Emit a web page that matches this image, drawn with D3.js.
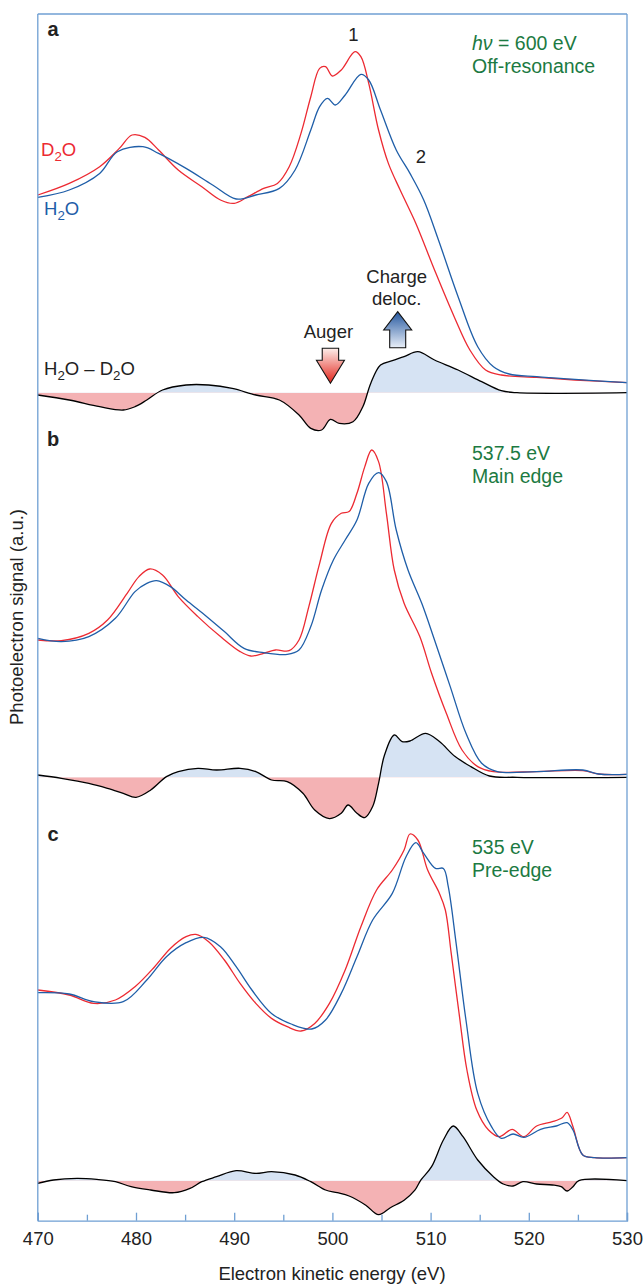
<!DOCTYPE html>
<html><head><meta charset="utf-8">
<script src="https://cdn.jsdelivr.net/npm/d3@7"></script>
<style>
body{margin:0;background:#fff}
svg text{font-family:"Liberation Sans",Arial,Helvetica,sans-serif}
</style>
</head><body>
<svg id="chart" width="644" height="1284"></svg>
<script>
// ---------- DATA (energy in eV, signal in a.u. relative to each panel's difference baseline) ----------
const majorTicks = [470, 480, 490, 500, 510, 520, 530];
const minorTicks = [475, 485, 495, 505, 515, 525];

// Panel a : hv = 600 eV (off-resonance)
const a_D2O = [[470,197.7],[473.2,209.3],[476.3,226],[478.3,244.3],[479.6,257.7],[480.9,255.3],[482.3,242.7],[484.3,222.7],[486.7,206],[488.6,192.7],[490.0,189.3],[491.4,196],[493.0,204.3],[494.4,209.3],[495.6,226],[496.8,259.3],[497.8,296],[498.7,324.3],[499.3,326],[500.0,316.7],[500.9,322.7],[502.3,341],[502.9,336],[503.7,309.3],[504.7,262.7],[505.7,229.3],[506.9,202.7],[508.5,169.3],[510.4,122.7],[512.4,76],[514.0,42.7],[515.6,22.7],[517.2,17.7],[520.8,15.3],[524.7,12.7],[530,10]];
const a_H2O = [[470,195.3],[473.2,202.7],[476.3,219.3],[478.1,241],[480.7,246],[482.3,239.3],[485.1,224.3],[487.8,207.7],[490.2,193.7],[492.2,197.7],[494.6,204.3],[496.2,222.7],[497.8,262.7],[498.7,286],[499.5,294.3],[500.3,287.7],[501.3,297.7],[502.9,318.3],[503.7,312.7],[504.9,282.7],[506.5,242.7],[507.9,219.3],[509.3,192.7],[510.8,152.7],[512.8,96],[514.8,46],[516.4,26],[518.0,18.7],[520.8,16],[524.7,13.3],[530,10]];
const a_diff = [[470,-2.3],[473.2,-7.3],[476.3,-14],[478.7,-17.3],[479.9,-14],[481.1,-7.3],[482.7,2.7],[485.1,7.7],[487.4,7.7],[489.8,4.3],[492.2,-2.3],[494.6,-7.3],[496.6,-22.3],[497.8,-35.7],[498.9,-37.3],[499.8,-26.7],[500.7,-30.7],[502.1,-29],[503.1,-14],[503.9,9.3],[504.9,27.7],[506.1,32],[507.3,36],[508.7,41],[510.4,32.7],[512.8,22.7],[515.2,11],[517.2,2],[518.8,0],[530,0]];

// Panel b : 537.5 eV (main edge)
const b_D2O = [[470,137.3],[472.4,136.7],[475.2,144],[477.1,157.3],[479.1,184],[480.3,200.7],[481.4,208.3],[482.7,202.3],[484.3,180.7],[486.3,160.7],[488.6,140.7],[490.6,125.7],[491.7,121.3],[493.0,124],[494.2,127.3],[495.6,126.7],[496.6,137.3],[497.6,170.7],[498.7,214],[499.9,254],[500.9,264],[501.7,265.7],[502.5,284],[503.3,310.7],[504.0,327.3],[504.7,315.7],[505.5,264],[506.3,207.3],[507.3,174],[508.9,140.7],[510.1,104],[511.6,64],[513.2,27.3],[514.8,10.7],[516.4,5.7],[520.8,5.7],[525.5,6.7],[527.1,3.3],[530,3]];
const b_H2O = [[470,139],[472.4,135.7],[475.2,140.7],[477.9,159],[479.9,185.7],[481.1,194],[482.1,196.7],[483.5,190.7],[485.1,177.3],[487.0,162.3],[489.0,145.7],[491.0,129],[493.0,124.7],[495.4,123],[496.6,127.3],[497.8,150.7],[498.9,187.3],[500.1,217.3],[501.3,237.3],[502.5,257.3],[503.7,294],[504.7,304.7],[505.5,295.7],[506.5,247.3],[507.7,207.3],[509.1,174],[510.4,137.3],[512.0,90.7],[513.6,44],[515.2,14],[516.8,5.7],[520.8,5.7],[525.5,7.3],[527.1,3.3],[530,3]];
const b_diff = [[470,2.3],[472.4,-1],[475.2,-6],[477.1,-11],[478.7,-16],[480.0,-20],[481.5,-12.7],[483.1,0.7],[484.3,5.7],[486.3,9],[488.2,7.3],[490.6,9],[492.2,5.7],[493.8,-2.7],[495.4,-4.3],[497.0,-16],[498.2,-32.7],[499.7,-41.3],[500.9,-36],[501.6,-27.7],[502.5,-36],[503.3,-40.3],[504.1,-29.3],[504.7,-6],[505.3,22],[506.3,42.3],[507.1,35.7],[507.9,36.3],[509.5,44],[510.9,35.7],[512.5,20.7],[514.1,10.7],[516.0,1.3],[518.8,0],[530,0]];

// Panel c : 535 eV (pre-edge)
const c_D2O = [[470,190.7],[473.2,185.7],[475.7,177.3],[477.9,180.7],[479.9,194],[481.9,214],[483.5,232.3],[485.1,244],[486.1,246.3],[487.4,239],[489.0,220.7],[490.6,197.3],[492.2,177.3],[493.8,162.3],[495.4,154],[496.8,149.7],[498.2,157.3],[499.7,177.3],[501.3,210.7],[502.9,254],[504.5,290.7],[506.1,310.7],[507.3,330.7],[507.9,346.7],[508.7,340.7],[509.7,310.7],[510.9,287.3],[511.5,270.7],[512.1,227.3],[512.9,167.3],[513.7,110.7],[514.7,70.7],[515.9,50.7],[517.0,44],[518.3,51.3],[519.5,44],[520.8,54.7],[522.4,59],[523.4,63],[523.9,68.3],[524.5,54],[525.5,25.7],[526.7,23],[530,23]];
const c_H2O = [[470,188],[473.2,186.7],[475.7,179],[478.7,179],[481.1,200.7],[483.1,224],[485.1,238],[486.9,243.3],[488.6,234],[490.2,214],[491.8,190.7],[493.8,167.3],[495.8,156.7],[497.9,151.7],[499.3,160.7],[500.9,187.3],[502.5,224],[504.1,260.7],[506.1,287.3],[507.5,324],[508.5,338],[509.3,327.3],[510.5,312.3],[511.3,312.3],[511.8,294],[512.6,237.3],[513.6,160.7],[514.8,87.3],[516.2,54],[517.2,42.3],[518.4,46.7],[519.5,43.3],[521.2,51.3],[522.8,54.7],[523.9,58],[524.5,50.7],[525.5,25.7],[526.7,23],[530,23]];
const c_diff = [[470,-2.7],[471.6,0.7],[474.0,2.3],[476.0,1.3],[477.9,-1],[479.5,-6],[481.5,-9.3],[483.9,-12],[485.5,-7.7],[486.7,-1],[488.2,4],[490.2,10],[492.2,7.3],[493.8,9],[496.2,5.7],[497.8,-1],[499.3,-9.3],[500.5,-12],[501.7,-15.3],[503.4,-24.5],[504.7,-34],[505.9,-27],[507.3,-19.5],[508.4,-9.5],[509.0,0.5],[510.1,14],[511.3,40.7],[512.3,54.7],[513.3,44],[514.8,20.7],[516.4,4],[517.4,-3.3],[518.4,-5.3],[519.4,-1],[520.8,-3.3],[522.4,-4.3],[523.3,-6],[523.9,-10.3],[524.5,-6],[525.1,0],[530,0]];

const panelLetters = ["a", "b", "c"];
const panelNotes = [["hν = 600 eV", "Off-resonance"], ["537.5 eV", "Main edge"], ["535 eV", "Pre-edge"]];
const xTitle = "Electron kinetic energy (eV)";
const yTitle = "Photoelectron signal (a.u.)";

// ---------- LAYOUT ----------
const W = 644, H = 1284;
const fLeft = 37.8, fRight = 627, fTop = 14, fBottom = 1220.7;
const baselines = [392.7, 777.3, 1180.7];
const colRed = "#ec2a32", colBlue = "#1f5ea8", colFrame = "#6f9fd3", colGreen = "#1c7a42";
const posFill = "#d6e3f3", negFill = "#f4b2b4";
const FS = 18.5, FSG = 19.5;

const svg = d3.select("#chart");
const defs = svg.append("defs");

const x = d3.scaleLinear().domain([470, 530]).range([fLeft, fRight]);

const panels = [
  {D2O: a_D2O, H2O: a_H2O, diff: a_diff},
  {D2O: b_D2O, H2O: b_H2O, diff: b_diff},
  {D2O: c_D2O, H2O: c_H2O, diff: c_diff}
];

const gRed = defs.append("linearGradient").attr("id", "gRed").attr("x1", 0).attr("y1", 0).attr("x2", 0).attr("y2", 1);
gRed.append("stop").attr("offset", "0%").attr("stop-color", "#fdeeea");
gRed.append("stop").attr("offset", "100%").attr("stop-color", "#e3231a");
const gBlue = defs.append("linearGradient").attr("id", "gBlue").attr("x1", 0).attr("y1", 0).attr("x2", 0).attr("y2", 1);
gBlue.append("stop").attr("offset", "0%").attr("stop-color", "#24579f");
gBlue.append("stop").attr("offset", "100%").attr("stop-color", "#e9eff8");

panels.forEach((p, i) => {
  const base = baselines[i];
  const y = d3.scaleLinear().domain([0, 100]).range([base, base - 100]);
  const g = svg.append("g");

  defs.append("clipPath").attr("id", "above" + i).append("rect")
    .attr("x", fLeft).attr("y", 0).attr("width", fRight - fLeft).attr("height", y(0));
  defs.append("clipPath").attr("id", "below" + i).append("rect")
    .attr("x", fLeft).attr("y", y(0)).attr("width", fRight - fLeft).attr("height", H - y(0));

  const area = d3.area().x(d => x(d[0])).y0(y(0)).y1(d => y(d[1])).curve(d3.curveCatmullRom.alpha(0.5));
  g.append("path").datum(p.diff).attr("d", area).attr("fill", posFill).attr("clip-path", `url(#above${i})`);
  g.append("path").datum(p.diff).attr("d", area).attr("fill", negFill).attr("clip-path", `url(#below${i})`);

  const line = d3.line().x(d => x(d[0])).y(d => y(d[1])).curve(d3.curveCatmullRom.alpha(0.5));
  g.append("path").datum(p.diff).attr("d", line).attr("fill", "none").attr("stroke", "#000").attr("stroke-width", 1.3);
  g.append("path").datum(p.D2O).attr("d", line).attr("fill", "none").attr("stroke", colRed).attr("stroke-width", 1.3);
  g.append("path").datum(p.H2O).attr("d", line).attr("fill", "none").attr("stroke", colBlue).attr("stroke-width", 1.3);

  const lettersY = [29, 439, 834];
  svg.append("text").attr("x", 53).attr("y", lettersY[i]).attr("dy", "0.35em")
    .attr("text-anchor", "middle").attr("font-weight", "bold").attr("font-size", 20)
    .attr("font-family", '"DejaVu Sans",sans-serif')
    .attr("fill", "#222").text(panelLetters[i]);

  const notesY = [[43, 66], [453, 476], [847, 870]];
  panelNotes[i].forEach((t, k) => {
    const tx = svg.append("text").attr("x", 472).attr("y", notesY[i][k]).attr("dy", "0.35em")
      .attr("font-size", FSG).attr("fill", colGreen);
    if (i === 0 && k === 0) {
      tx.append("tspan").attr("font-style", "italic").text("hν");
      tx.append("tspan").text(" = 600 eV");
    } else tx.text(t);
  });
});

function subLabel(xp, yp, parts, color) {
  const t = svg.append("text").attr("x", xp).attr("y", yp).attr("dy", "0.35em")
    .attr("font-size", FS).attr("fill", color);
  parts.forEach(pt => {
    if (pt.sub) t.append("tspan").attr("font-size", FS * 0.72).attr("dy", 5).text(pt.s);
    else t.append("tspan").attr("dy", pt.after ? -5 : 0).text(pt.s);
  });
  return t;
}
subLabel(41, 156, [{s: "D"}, {s: "2", sub: true}, {s: "O", after: true}], colRed);
subLabel(44, 215, [{s: "H"}, {s: "2", sub: true}, {s: "O", after: true}], colBlue);
subLabel(44, 375, [{s: "H"}, {s: "2", sub: true}, {s: "O – D", after: true}, {s: "2", sub: true}, {s: "O", after: true}], "#222");

svg.append("text").attr("x", 353.5).attr("y", 35).attr("dy", "0.35em").attr("text-anchor", "middle")
  .attr("font-size", FS).attr("fill", "#222").text("1");
svg.append("text").attr("x", 421).attr("y", 157).attr("dy", "0.35em").attr("text-anchor", "middle")
  .attr("font-size", FS).attr("fill", "#222").text("2");

const augerX = x(499.8);
svg.append("text").attr("x", augerX - 2).attr("y", 332).attr("dy", "0.35em").attr("text-anchor", "middle")
  .attr("font-size", FS).attr("fill", "#222").text("Auger");
{
  const t0 = 348.3, sw = 8.2, sl = 12, hw = 14, hl = 23;
  const d = `M${augerX - sw},${t0} L${augerX + sw},${t0} L${augerX + sw},${t0 + sl} L${augerX + hw},${t0 + sl} L${augerX},${t0 + sl + hl} L${augerX - hw},${t0 + sl} L${augerX - sw},${t0 + sl} Z`;
  svg.append("path").attr("d", d).attr("fill", "url(#gRed)").attr("stroke", "#111").attr("stroke-width", 1.1);
}
const chX = x(506.65);
svg.append("text").attr("x", chX - 1).attr("y", 277).attr("dy", "0.35em").attr("text-anchor", "middle")
  .attr("font-size", FS).attr("fill", "#222").text("Charge");
svg.append("text").attr("x", chX - 1).attr("y", 299).attr("dy", "0.35em").attr("text-anchor", "middle")
  .attr("font-size", FS).attr("fill", "#222").text("deloc.");
{
  const tip = 311.7, hl = 18.3, hw = 14, sw = 8, sl = 17.7;
  const d = `M${chX},${tip} L${chX + hw},${tip + hl} L${chX + sw},${tip + hl} L${chX + sw},${tip + hl + sl} L${chX - sw},${tip + hl + sl} L${chX - sw},${tip + hl} L${chX - hw},${tip + hl} Z`;
  svg.append("path").attr("d", d).attr("fill", "url(#gBlue)").attr("stroke", "#111").attr("stroke-width", 1.1);
}

// ---------- frame & axis ----------
svg.append("line").attr("x1", fLeft).attr("x2", fRight).attr("y1", fTop).attr("y2", fTop).attr("stroke", colFrame).attr("stroke-width", 1.3);
svg.append("line").attr("x1", fLeft).attr("x2", fLeft).attr("y1", fTop).attr("y2", fBottom).attr("stroke", colFrame).attr("stroke-width", 1.3);
svg.append("line").attr("x1", fRight).attr("x2", fRight).attr("y1", fTop).attr("y2", fBottom).attr("stroke", colFrame).attr("stroke-width", 1.3);

const axisG = svg.append("g").attr("transform", `translate(0,${fBottom})`);
axisG.call(d3.axisBottom(x).tickValues(majorTicks).tickSize(-8).tickPadding(11).tickFormat(d3.format("d")));
axisG.select(".domain").attr("stroke", colFrame).attr("stroke-width", 1.3);
axisG.selectAll(".tick line").attr("stroke", colFrame).attr("stroke-width", 1.3);
axisG.selectAll(".tick text").attr("font-size", FS).attr("fill", "#222")
  .attr("font-family", '"Liberation Sans",Arial,sans-serif');
const minorG = svg.append("g").attr("transform", `translate(0,${fBottom})`);
minorG.call(d3.axisBottom(x).tickValues(minorTicks).tickSize(-6).tickFormat(""));
minorG.select(".domain").remove();
minorG.selectAll(".tick line").attr("stroke", colFrame).attr("stroke-width", 1.3);

svg.append("text").attr("x", 332).attr("y", 1274).attr("dy", "0.35em")
  .attr("text-anchor", "middle").attr("font-size", FS).attr("fill", "#222").text(xTitle);
svg.append("text").attr("transform", `translate(17,617) rotate(-90)`).attr("dy", "0.35em")
  .attr("text-anchor", "middle").attr("font-size", FS).attr("fill", "#222").text(yTitle);
</script>
</body></html>
